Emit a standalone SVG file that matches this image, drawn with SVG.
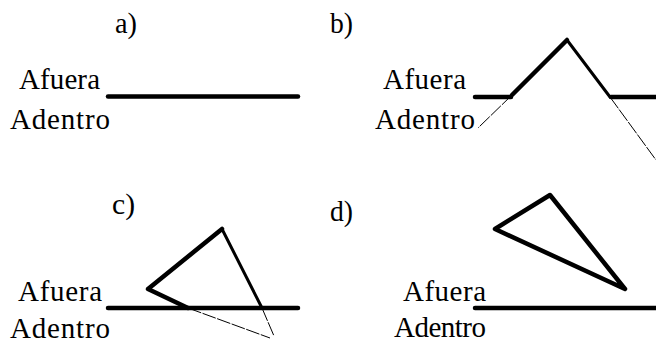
<svg xmlns="http://www.w3.org/2000/svg" width="656" height="344" viewBox="0 0 656 344">
<style>
text{font-family:"Liberation Serif","Times New Roman",serif;fill:#000}
.lbl{font-size:29px}
.pl{font-size:30px}
.thick{stroke:#000;stroke-width:4.5;fill:none;stroke-linecap:round;stroke-linejoin:round}
.mid{stroke:#000;stroke-width:3;fill:none;stroke-linecap:round}
.thin{stroke:#000;stroke-width:1;fill:none;stroke-dasharray:14 1.5}
</style>
<rect width="656" height="344" fill="#fff"/>
<g id="panel-a">
<text class="pl" x="115" y="33" textLength="22" lengthAdjust="spacingAndGlyphs">a)</text>
<text class="lbl" x="19" y="88.5" textLength="81" lengthAdjust="spacing">Afuera</text>
<text class="lbl" x="10" y="129" textLength="100" lengthAdjust="spacing">Adentro</text>
<line class="thick" x1="108" y1="96.5" x2="298" y2="96.5" stroke-linecap="butt"/>
</g>
<g id="panel-b">
<text class="pl" x="330" y="33" textLength="23" lengthAdjust="spacingAndGlyphs">b)</text>
<text class="lbl" x="383" y="89" textLength="83" lengthAdjust="spacing">Afuera</text>
<text class="lbl" x="375" y="129" textLength="100" lengthAdjust="spacing">Adentro</text>
<line class="thick" x1="475" y1="97" x2="511" y2="97" stroke-linecap="butt"/>
<line class="thick" x1="611" y1="97" x2="656" y2="97" stroke-linecap="butt"/>
<polyline class="thick" points="512,95 567,40"/>
<line class="mid" x1="567" y1="40" x2="610" y2="97"/>
<line class="thin" x1="512" y1="95" x2="478" y2="128"/>
<line class="thin" x1="610" y1="97" x2="656" y2="160"/>
</g>
<g id="panel-c">
<text class="pl" x="112" y="214" textLength="23" lengthAdjust="spacingAndGlyphs">c)</text>
<text class="lbl" x="18" y="301" textLength="84" lengthAdjust="spacing">Afuera</text>
<text class="lbl" x="10" y="338" textLength="100" lengthAdjust="spacing">Adentro</text>
<line class="thick" x1="108" y1="308" x2="298" y2="308" stroke-linecap="butt"/>
<polyline class="thick" points="188,308 148,289 222,229"/>
<line class="mid" x1="222" y1="229" x2="262" y2="308"/>
<line class="thin" x1="188" y1="308" x2="270" y2="338"/>
<line class="thin" x1="262" y1="308" x2="274" y2="336"/>
</g>
<g id="panel-d">
<text class="pl" x="330" y="221" textLength="23" lengthAdjust="spacingAndGlyphs">d)</text>
<text class="lbl" x="403" y="301" textLength="83" lengthAdjust="spacing">Afuera</text>
<text class="lbl" x="394" y="337" textLength="92" lengthAdjust="spacing">Adentro</text>
<line class="thick" x1="475" y1="308" x2="656" y2="308" stroke-width="4" stroke-linecap="butt"/>
<polygon class="thick" stroke-width="4" points="495,229 550,195 625,289"/>
</g>
</svg>
